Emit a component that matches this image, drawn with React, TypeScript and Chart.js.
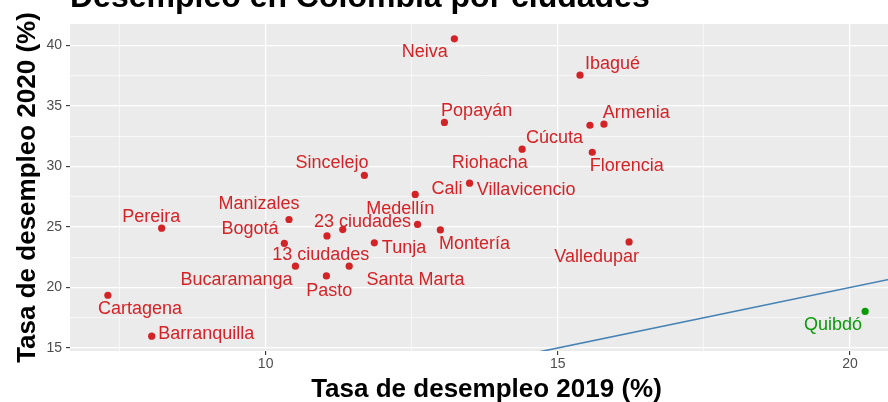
import React, { useEffect, useRef } from "react";
import { Chart, registerables } from "chart.js";

Chart.register(...registerables);

// ---- data ----
const cities = [
  "Neiva", "Ibagué", "Popayán", "Cúcuta", "Armenia", "Riohacha", "Florencia",
  "Sincelejo", "Villavicencio", "Cali", "Medellín", "Montería", "Valledupar",
  "Manizales", "Pereira", "Bogotá", "23 ciudades", "13 ciudades", "Tunja",
  "Santa Marta", "Bucaramanga", "Pasto", "Cartagena", "Barranquilla", "Quibdó",
];
const rate2019 = [
  13.23, 15.38, 13.06, 15.55, 15.79, 14.39, 15.59,
  11.69, 13.49, 12.56, 12.60, 12.99, 16.22,
  10.40, 8.22, 10.32, 11.32, 11.05, 11.86,
  11.43, 10.51, 11.04, 7.30, 8.05, 20.26,
];
const rate2020 = [
  40.55, 37.55, 33.64, 33.41, 33.50, 31.43, 31.18,
  29.26, 28.62, 27.69, 25.21, 24.76, 23.77,
  25.62, 24.90, 23.64, 24.79, 24.26, 23.69,
  21.76, 21.76, 20.96, 19.36, 15.98, 18.02,
];
const highlighted = ["Quibdó"];
const identityLine = [5, 25];
const xTicks = [7.5, 10, 12.5, 15, 17.5, 20];
const yTicks = [15, 17.5, 20, 22.5, 25, 27.5, 30, 32.5, 35, 37.5, 40];

// ---- label layout (pixel offsets from each point: dx to text centre, dy to baseline) ----
const labelOffsets: [number, number][] = [
  [-29.5, 18.6], [32.5, -6], [32.2, -6.3], [-35.5, 18], [32.4, -6], [-32.3, 18.3], [34.6, 18.7],
  [-32.3, -7], [56.5, 11.3], [31.7, 0], [-17.3, -10.3], [34.2, 18.6], [-32.4, 20],
  [-30.1, -10.3], [-10.3, -6.7], [-34.3, -9], [19.8, -2.6], [-6.2, 24.3], [29.7, 10],
  [66.3, 19], [-59, 19], [2.9, 20.3], [32.2, 18.3], [54.6, 3], [-32.2, 18.7],
];

const RED = "#D42326";
const GREEN = "#0A9A0A";
const FONT = "'Liberation Sans', Arial, Helvetica, sans-serif";

function expand(vals: number[]) {
  const mn = Math.min(...vals);
  const mx = Math.max(...vals);
  const pad = (mx - mn) * 0.05;
  return [mn - pad, mx + pad];
}

export default function App() {
  const ref = useRef<HTMLCanvasElement | null>(null);

  useEffect(() => {
    const canvas = ref.current;
    if (!canvas) return;
    const [xMin, xMax] = expand(rate2019);
    const [yMin, yMax] = expand(rate2020);
    const colors = cities.map((c) => (highlighted.includes(c) ? GREEN : RED));

    const isMajor = (v: number) => Math.abs(v % 5) < 1e-9;

    const panelBg = {
      id: "panelBg",
      beforeDraw(chart: any) {
        const { ctx, chartArea: a } = chart;
        ctx.save();
        ctx.fillStyle = "#EBEBEB";
        ctx.fillRect(a.left, a.top, a.right - a.left, a.bottom - a.top);
        ctx.restore();
      },
    };

    const textLayer = {
      id: "textLayer",
      afterDraw(chart: any) {
        const { ctx, chartArea: a, scales } = chart;
        ctx.save();
        // point labels
        ctx.font = `18px ${FONT}`;
        ctx.textAlign = "center";
        ctx.textBaseline = "alphabetic";
        cities.forEach((c, i) => {
          const px = scales.x.getPixelForValue(rate2019[i]) + labelOffsets[i][0];
          const py = scales.y.getPixelForValue(rate2020[i]) + labelOffsets[i][1];
          ctx.fillStyle = colors[i];
          ctx.fillText(c, px, py);
        });
        // main title
        ctx.fillStyle = "#000000";
        ctx.textAlign = "left";
        ctx.font = `bold 32px ${FONT}`;
        ctx.fillText("Desempleo en Colombia por ciudades", a.left, 7);
        // x title
        ctx.textAlign = "center";
        ctx.font = `bold 26px ${FONT}`;
        ctx.fillText("Tasa de desempleo 2019 (%)", (a.left + a.right) / 2, 397);
        // y title
        ctx.translate(35, (a.top + a.bottom) / 2);
        ctx.rotate(-Math.PI / 2);
        ctx.fillText("Tasa de desempleo 2020 (%)", 0, 0);
        ctx.restore();
      },
    };

    const gridOpts = {
      color: "#FFFFFF",
      lineWidth: (ctx: any) => (ctx.tick && isMajor(ctx.tick.value) ? 1.2 : 0.6),
      tickColor: (ctx: any) => (ctx.tick && isMajor(ctx.tick.value) ? "#333333" : "rgba(0,0,0,0)"),
      tickLength: 4,
      tickWidth: 1.1,
      drawOnChartArea: true,
      drawTicks: true,
    };

    const chart = new Chart(canvas, {
      type: "scatter",
      data: {
        datasets: [
          {
            type: "line",
            data: identityLine.map((v) => ({ x: v, y: v })),
            borderColor: "#4682B4",
            borderWidth: 1.6,
            pointRadius: 0,
            fill: false,
            order: 2,
          } as any,
          {
            data: cities.map((_, i) => ({ x: rate2019[i], y: rate2020[i] })),
            pointBackgroundColor: colors,
            pointBorderWidth: 0,
            pointRadius: 3.6,
            order: 1,
          } as any,
        ],
      },
      options: {
        responsive: false,
        animation: false,
        devicePixelRatio: 1,
        layout: { padding: { top: 24, left: 0, right: 0, bottom: 0 } },
        plugins: {
          legend: { display: false },
          tooltip: { enabled: false },
          title: { display: false },
        },
        scales: {
          x: {
            type: "linear",
            min: xMin,
            max: xMax,
            afterBuildTicks: (s: any) => {
              s.ticks = xTicks.map((v) => ({ value: v }));
            },
            afterFit: (s: any) => {
              s.height = 51;
            },
            ticks: {
              autoSkip: false,
              maxRotation: 0,
              padding: 1,
              color: "#4D4D4D",
              font: { size: 14, family: FONT },
              callback: (v: any) => (isMajor(Number(v)) ? String(v) : ""),
            },
            grid: gridOpts as any,
            border: { display: false },
          },
          y: {
            type: "linear",
            min: yMin,
            max: yMax,
            afterBuildTicks: (s: any) => {
              s.ticks = yTicks.map((v) => ({ value: v }));
            },
            afterFit: (s: any) => {
              s.width = 70;
            },
            ticks: {
              autoSkip: false,
              padding: 4,
              color: "#4D4D4D",
              font: { size: 14, family: FONT },
              callback: (v: any) => (isMajor(Number(v)) ? String(v) : ""),
            },
            grid: gridOpts as any,
            border: { display: false },
          },
        },
      },
      plugins: [panelBg, textLayer],
    });

    return () => chart.destroy();
  }, []);

  return (
    <div
      style={{
        position: "absolute",
        left: 0,
        top: 0,
        width: 888,
        height: 402,
        overflow: "hidden",
        background: "#FFFFFF",
      }}
    >
      <canvas ref={ref} width={907} height={402} style={{ display: "block", width: 907, height: 402 }} />
    </div>
  );
}
